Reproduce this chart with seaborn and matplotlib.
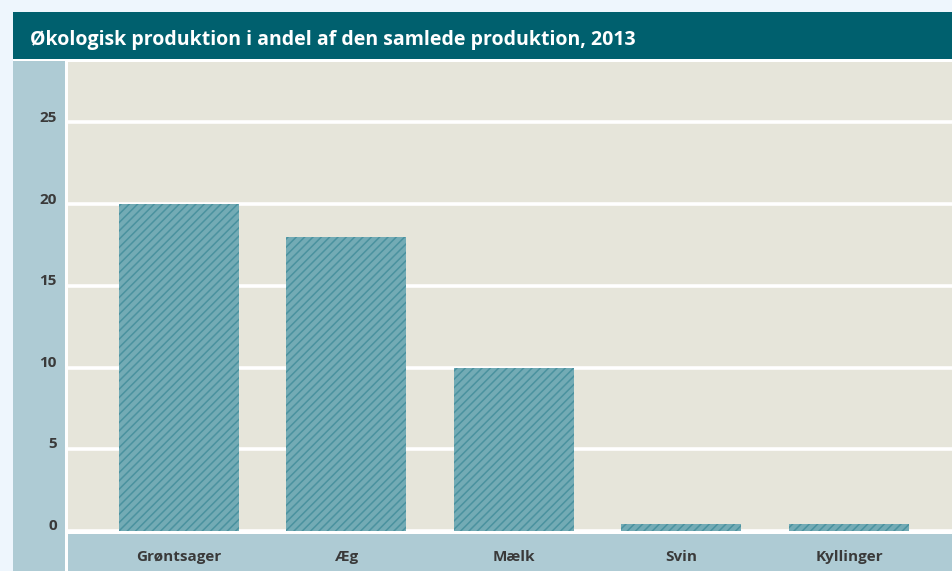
import matplotlib
matplotlib.use("Agg")
import matplotlib.pyplot as plt
import seaborn as sns
import pandas as pd
from matplotlib.patches import Rectangle

categories = ["Grøntsager", "Æg", "Mælk", "Svin", "Kyllinger"]
values = [20, 18, 10, 0.4, 0.4]
yticks = [0, 5, 10, 15, 20, 25]
title = "Økologisk produktion i andel af den samlede produktion, 2013"

df = pd.DataFrame({"kategori": categories, "andel": values})

sns.set_theme(style="white")
plt.rcParams["font.family"] = ["Open Sans", "DejaVu Sans"]
plt.rcParams["hatch.linewidth"] = 1.1

W, H = 953, 571
fig = plt.figure(figsize=(W / 100, H / 100), dpi=100, facecolor="#eef6fd")

def px_rect(x0, y0, x1, y1, color):
    fig.patches.append(Rectangle((x0 / W, 1 - y1 / H), (x1 - x0) / W, (y1 - y0) / H,
                                 transform=fig.transFigure, facecolor=color,
                                 edgecolor="none", zorder=-5))

px_rect(13, 12, 953, 59, "#00606e")
px_rect(13, 59, 953, 571, "#ffffff")
px_rect(13, 61, 65, 571, "#aecbd4")
px_rect(68, 534, 953, 571, "#aecbd4")

ax = fig.add_axes([68 / W, (H - 531) / H, (953 - 68) / W, (531 - 62) / H])
ax.set_zorder(1)
ax.set_facecolor("#e6e5da")

sns.barplot(data=df, x="kategori", y="andel", ax=ax, color="#73abb5",
            width=0.716, saturation=1, zorder=3)
for p in ax.patches:
    p.set_hatch("////")
    p.set_edgecolor("#4a929f")
    p.set_linewidth(0)

ax.set_xlim(-0.66, 4.62)
ax.set_ylim(0, 28.7)
for t in yticks:
    ax.axhline(t, color="white", lw=2.6, zorder=2, clip_on=False)

for s in ax.spines.values():
    s.set_visible(False)
ax.set_xlabel("")
ax.set_ylabel("")
ax.set_yticks([])
ax.set_xticks([])

for t in yticks:
    fig.text(57 / W, 1 - (531 - t * 16.32 - 5) / H, str(t), ha="right", va="center",
             fontsize=11, fontweight="bold", color="#3a3a3a")

for i, c in enumerate(categories):
    xd = ax.transData.transform((i, 0))[0]
    fig.text(xd / W, 1 - 557 / H, c, ha="center", va="center",
             fontsize=11, fontweight="bold", color="#3a3a3a")

fig.text(30 / W, 1 - 40 / H, title, ha="left", va="center", fontsize=14.0,
         fontweight="bold", color="white")

fig.savefig("out.png", dpi=100, facecolor=fig.get_facecolor())
